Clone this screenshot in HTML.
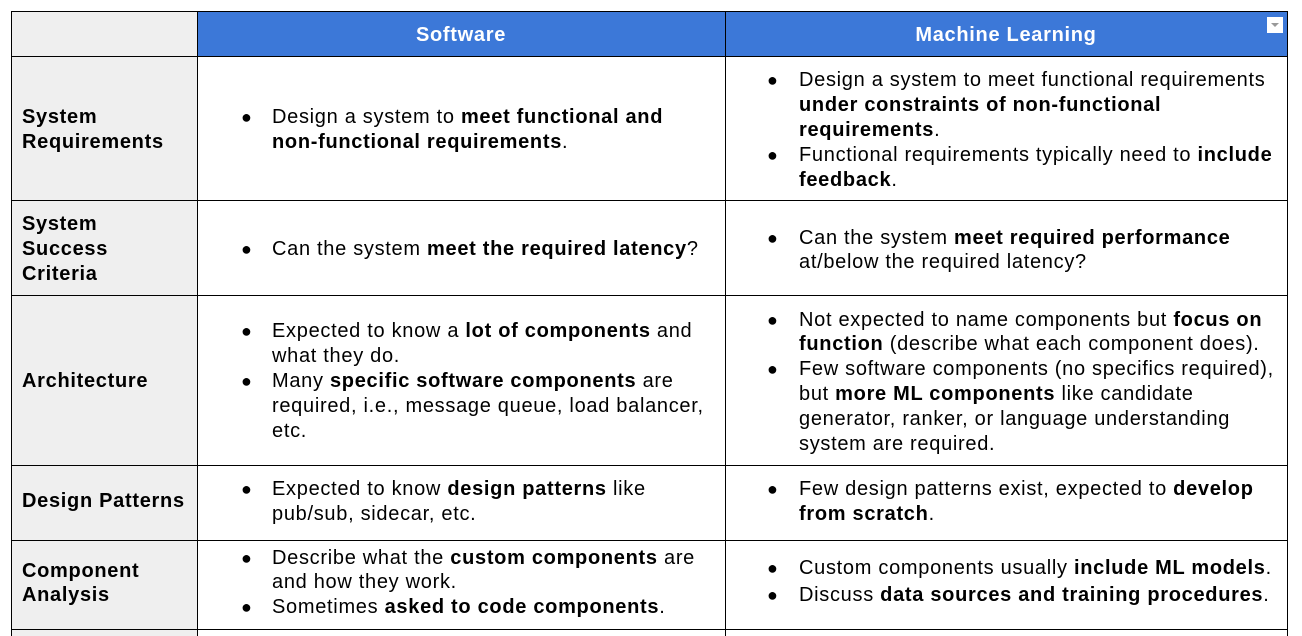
<!DOCTYPE html>
<html><head><style>
body{margin:0;width:1302px;height:636px;background:#fff;position:relative;overflow:hidden;font-family:"Liberation Sans",Arial,sans-serif;font-size:20px;letter-spacing:0.7px;color:#000}
.a{position:absolute}
.h{position:absolute;background:#000}
.l{position:absolute;height:25px;line-height:25px;white-space:nowrap}
.b{position:absolute;height:25px;line-height:25px;font-size:18px;letter-spacing:0}
b{font-weight:bold}
</style></head><body>
<div class="a" style="left:11px;top:11px;width:186px;height:625px;background:#efefef"></div>
<div class="a" style="left:197px;top:11px;width:1090px;height:45px;background:#3c78d8"></div>
<div class="a" style="left:1267px;top:17px;width:16px;height:16px;background:#fff"></div>
<div class="a" style="left:1271px;top:23px;width:0;height:0;border-left:4px solid transparent;border-right:4px solid transparent;border-top:4px solid #999"></div>
<div class="h" style="left:11px;top:11px;width:1277px;height:1px"></div>
<div class="h" style="left:11px;top:56px;width:1277px;height:1px"></div>
<div class="h" style="left:11px;top:200px;width:1277px;height:1px"></div>
<div class="h" style="left:11px;top:295px;width:1277px;height:1px"></div>
<div class="h" style="left:11px;top:465px;width:1277px;height:1px"></div>
<div class="h" style="left:11px;top:540px;width:1277px;height:1px"></div>
<div class="h" style="left:11px;top:629px;width:1277px;height:1px"></div>
<div class="h" style="left:11px;top:11px;width:1px;height:625px"></div>
<div class="h" style="left:197px;top:11px;width:1px;height:625px"></div>
<div class="h" style="left:725px;top:11px;width:1px;height:625px"></div>
<div class="h" style="left:1287px;top:11px;width:1px;height:625px"></div>
<div class="l" style="left:197px;width:528px;text-align:center;top:23px;color:#fff;font-weight:bold">Software</div>
<div class="l" style="left:725px;width:562px;text-align:center;top:23px;color:#fff;font-weight:bold">Machine Learning</div>
<div class="l" style="left:22px;top:105px"><b>System</b></div>
<div class="l" style="left:22px;top:130px"><b>Requirements</b></div>
<div class="l" style="left:22px;top:212px"><b>System</b></div>
<div class="l" style="left:22px;top:237px"><b>Success</b></div>
<div class="l" style="left:22px;top:262px"><b>Criteria</b></div>
<div class="l" style="left:22px;top:369px"><b>Architecture</b></div>
<div class="l" style="left:22px;top:489px"><b>Design Patterns</b></div>
<div class="l" style="left:22px;top:559px"><b>Component</b></div>
<div class="l" style="left:22px;top:583px"><b>Analysis</b></div>
<div class="b" style="left:241px;top:105px">●</div>
<div class="l" style="left:272px;top:105px">Design a system to <b>meet functional and</b></div>
<div class="l" style="left:272px;top:130px"><b>non-functional requirements</b>.</div>
<div class="b" style="left:767px;top:68px">●</div>
<div class="l" style="left:799px;top:68px">Design a system to meet functional requirements</div>
<div class="l" style="left:799px;top:93px"><b>under constraints of non-functional</b></div>
<div class="l" style="left:799px;top:118px"><b>requirements</b>.</div>
<div class="b" style="left:767px;top:143px">●</div>
<div class="l" style="left:799px;top:143px">Functional requirements typically need to <b>include</b></div>
<div class="l" style="left:799px;top:168px"><b>feedback</b>.</div>
<div class="b" style="left:241px;top:237px">●</div>
<div class="l" style="left:272px;top:237px">Can the system <b>meet the required latency</b>?</div>
<div class="b" style="left:767px;top:226px">●</div>
<div class="l" style="left:799px;top:226px">Can the system <b>meet required performance</b></div>
<div class="l" style="left:799px;top:250px">at/below the required latency?</div>
<div class="b" style="left:241px;top:319px">●</div>
<div class="l" style="left:272px;top:319px">Expected to know a <b>lot of components</b> and</div>
<div class="l" style="left:272px;top:344px">what they do.</div>
<div class="b" style="left:241px;top:369px">●</div>
<div class="l" style="left:272px;top:369px">Many <b>specific software components</b> are</div>
<div class="l" style="left:272px;top:394px">required, i.e., message queue, load balancer,</div>
<div class="l" style="left:272px;top:419px">etc.</div>
<div class="b" style="left:767px;top:308px">●</div>
<div class="l" style="left:799px;top:308px">Not expected to name components but <b>focus on</b></div>
<div class="l" style="left:799px;top:332px"><b>function</b> (describe what each component does).</div>
<div class="b" style="left:767px;top:357px">●</div>
<div class="l" style="left:799px;top:357px">Few software components (no specifics required),</div>
<div class="l" style="left:799px;top:382px">but <b>more ML components</b> like candidate</div>
<div class="l" style="left:799px;top:407px">generator, ranker, or language understanding</div>
<div class="l" style="left:799px;top:432px">system are required.</div>
<div class="b" style="left:241px;top:477px">●</div>
<div class="l" style="left:272px;top:477px">Expected to know <b>design patterns</b> like</div>
<div class="l" style="left:272px;top:502px">pub/sub, sidecar, etc.</div>
<div class="b" style="left:767px;top:477px">●</div>
<div class="l" style="left:799px;top:477px">Few design patterns exist, expected to <b>develop</b></div>
<div class="l" style="left:799px;top:502px"><b>from scratch</b>.</div>
<div class="b" style="left:241px;top:546px">●</div>
<div class="l" style="left:272px;top:546px">Describe what the <b>custom components</b> are</div>
<div class="l" style="left:272px;top:570px">and how they work.</div>
<div class="b" style="left:241px;top:595px">●</div>
<div class="l" style="left:272px;top:595px">Sometimes <b>asked to code components</b>.</div>
<div class="b" style="left:767px;top:556px">●</div>
<div class="l" style="left:799px;top:556px">Custom components usually <b>include ML models</b>.</div>
<div class="b" style="left:767px;top:583px">●</div>
<div class="l" style="left:799px;top:583px">Discuss <b>data sources and training procedures</b>.</div>
</body></html>
